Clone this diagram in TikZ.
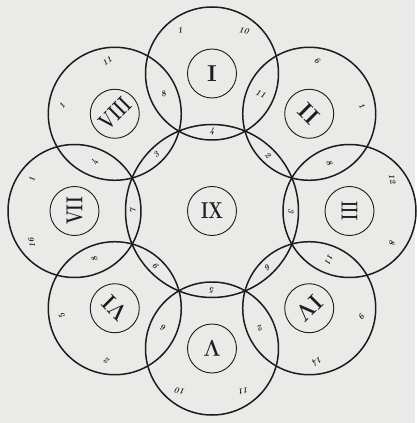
\documentclass[tikz,border=0pt]{standalone}
\usepackage{graphicx}
\definecolor{paper}{RGB}{234,234,232}
\definecolor{ink}{RGB}{28,28,28}
\tikzset{
 bigc/.style={circle, draw=ink, line width=1.5pt, minimum size=133pt, inner sep=0pt},
 hub/.style={circle, draw=ink, line width=1.5pt, minimum size=173pt, inner sep=0pt},
 smallc/.style={circle, draw=ink, line width=0.9pt, minimum size=49pt, inner sep=0pt, text=ink, font=\fontsize{23}{23}\selectfont\bfseries},
 lab/.style={font=\fontsize{8.5}{8.5}\selectfont\bfseries\itshape, text=ink, inner sep=0pt},
}
\begin{document}
\begin{tikzpicture}[x=1pt,y=1pt]
\fill[paper] (-212,-212) rectangle (203,211);
\node[hub] (hub) at (0,0) {};
\foreach \a/\n in {90/1,45/2,0/3,-45/4,-90/5,-135/6,180/7,135/8}{
  \node[bigc] (c\n) at (\a:137.5) {};
}
% roman numerals
\node[smallc] (r1) at (c1) {I};
\node[smallc, rotate=-45] (r2) at (c2) {II};
\node[smallc, rotate=-90] (r3) at (c3) {\scalebox{0.62}[1]{III}};
\node[smallc, rotate=-135] (r4) at (c4) {\scalebox{0.9}[1]{IV}};
\node[smallc, rotate=180] (r5) at (c5) {\scalebox{0.85}[1]{V}};
\node[smallc, rotate=135] (r6) at (c6) {\scalebox{0.85}[1]{VI}};
\node[smallc, rotate=90] (r7) at (c7) {\scalebox{0.7}[1]{VII}};
\node[smallc, rotate=45] (r8) at (c8) {\scalebox{0.7}[1]{VIII}};
\node[smallc] (r9) at (hub) {\scalebox{0.75}[1]{IX}};
% outer regions
\foreach \a/\t [count=\k] in {100/1, 80/10, 55/6, 35/1, 10/12, -10/8, -35/9, -55/14, -80/11, -100/10, -125/2, -145/5, 190/16, 170/1, 145/1, 125/11}{
  \node[lab, rotate=\a-90] (o\k) at (\a:183) {\t};
}
% lenses with the centre circle
\foreach \a/\t [count=\k] in {90/4, 45/2, 0/3, -45/6, -90/5, -135/9, 180/7, 135/3}{
  \node[lab, rotate=\a-90] (m\k) at (\a:79) {\t};
}
% lenses between neighbouring circles
\foreach \a/\t [count=\k] in {67.5/11, 22.5/8, -22.5/11, -67.5/2, -112.5/6, -157.5/8, 157.5/4, 112.5/8}{
  \node[lab, rotate=\a-90] (n\k) at (\a:127) {\t};
}
\end{tikzpicture}
\end{document}
